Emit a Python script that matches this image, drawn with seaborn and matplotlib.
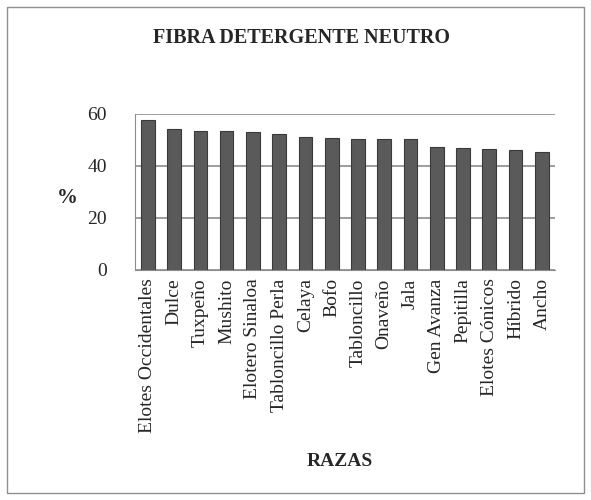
import matplotlib
matplotlib.use("Agg")
import matplotlib.pyplot as plt
import seaborn as sns
import pandas as pd

razas = ["Elotes Occidentales", "Dulce", "Tuxpeño", "Mushito", "Elotero Sinaloa",
         "Tabloncillo Perla", "Celaya", "Bofo", "Tabloncillo", "Onaveño", "Jala",
         "Gen Avanza", "Pepitilla", "Elotes Cónicos", "Híbrido", "Ancho"]
fdn = [57.6, 54.4, 53.6, 53.6, 53.2, 52.4, 51.2, 50.6, 50.5, 50.4, 50.2,
       47.2, 46.8, 46.5, 46.0, 45.3]

df = pd.DataFrame({"raza": razas, "fdn": fdn})

sns.set_style("white")
plt.rcParams['font.family'] = ['Liberation Serif', 'DejaVu Serif']

fig = plt.figure(figsize=(5.91, 5.0), dpi=100)
ax = fig.add_axes([0.228, 0.46, 0.711, 0.312])

sns.barplot(data=df, x="raza", y="fdn", color="#5a5a5a", edgecolor="#3a3a3a",
            linewidth=0.8, width=0.52, saturation=1, ax=ax)

ax.set_ylim(0, 60)
ax.set_yticks([0, 20, 40, 60])
ax.set_xlim(-0.5, len(razas) - 0.5)
ax.yaxis.grid(True, color="#8c8c8c", linewidth=1.2)
ax.set_axisbelow(True)
for s in ["top", "right"]:
    ax.spines[s].set_visible(False)
ax.spines["left"].set_color("#8c8c8c")
ax.spines["bottom"].set_color("#8c8c8c")

# ticks between categories on x
ax.set_xticks([i - 0.5 for i in range(len(razas) + 1)], minor=True)
ax.tick_params(axis="x", which="minor", length=5, color="#8c8c8c", direction="out")
ax.tick_params(axis="x", which="major", length=0, pad=6)
ax.tick_params(axis="y", length=4, color="#8c8c8c", labelsize=14, pad=16)
ax.set_xticks(range(len(razas)))
ax.set_xticklabels(razas, rotation=90, fontsize=14, va="top", ha="center")

ax.set_xlabel("")
ax.set_ylabel("%", fontsize=15, fontweight="bold", rotation=0, va="center", ha="center")
ax.yaxis.set_label_coords(-0.16, 0.46)

fig.text(0.51, 0.924, "FIBRA DETERGENTE NEUTRO", ha="center", va="center",
         fontsize=14.5, fontweight="bold")
fig.text(0.575, 0.076, "RAZAS", ha="center", va="center",
         fontsize=14, fontweight="bold")

fig.add_artist(plt.Rectangle((0.012, 0.014), 0.976, 0.972, transform=fig.transFigure,
                             fill=False, edgecolor="#8f8f8f", linewidth=1))

fig.savefig("out.png", dpi=100)
